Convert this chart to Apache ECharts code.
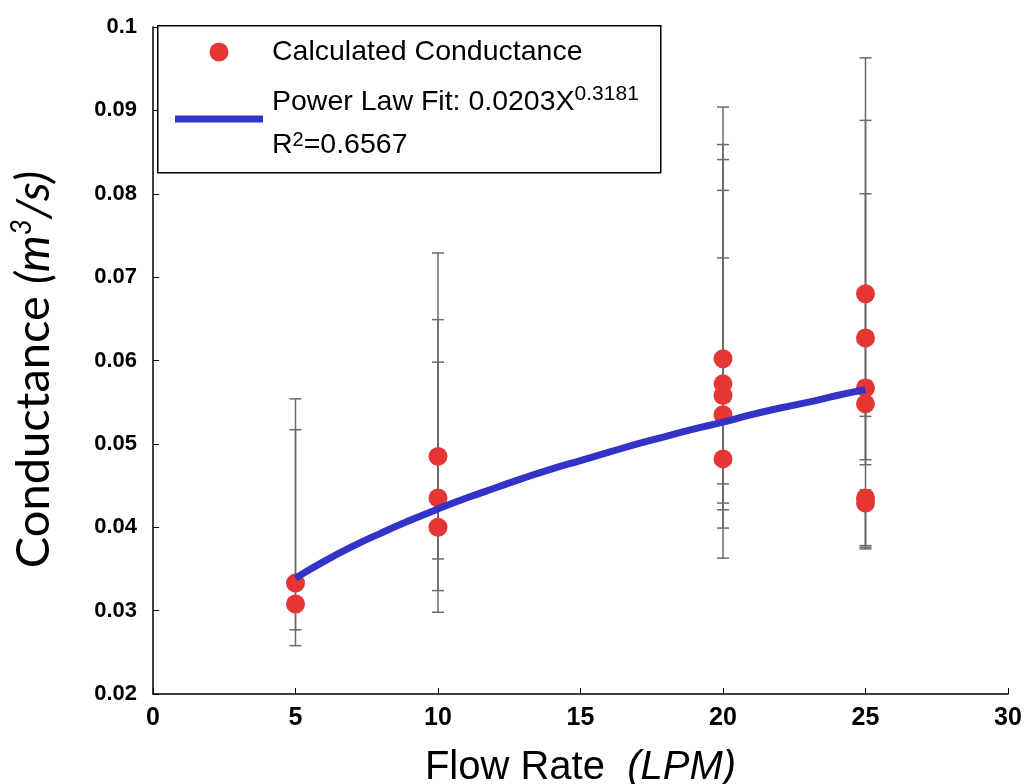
<!DOCTYPE html>
<html><head><meta charset="utf-8">
<script src="https://cdn.jsdelivr.net/npm/echarts@6/dist/echarts.min.js"></script>
<style>html,body{margin:0;padding:0;background:#fff}#c{width:1028px;height:784px}</style>
</head><body><div id="c"></div>
<script>
// Calculated conductance points with their error-bar limits
const flowRate    = [5, 5, 10, 10, 10, 20, 20, 20, 20, 20, 25, 25, 25, 25, 25, 25];
const conductance = [0.0333, 0.0308, 0.0485, 0.0435, 0.0400, 0.0602, 0.0572, 0.0558, 0.0535, 0.0482, 0.0680, 0.0627, 0.0567, 0.0548, 0.0435, 0.0429];
const errLow      = [0.0258, 0.0277, 0.0362, 0.0324, 0.0298, 0.0452, 0.0429, 0.0421, 0.0399, 0.0363, 0.0533, 0.0481, 0.0475, 0.0378, 0.0374, 0.0376];
const errHigh     = [0.0554, 0.0517, 0.0729, 0.0649, 0.0598, 0.0904, 0.0859, 0.0841, 0.0804, 0.0723, 0.0963, 0.0888, 0.0800, 0.0576, 0.0445, 0.0440];
// Power law fit curve
const fitX = [5, 6, 7, 8, 9, 10, 11, 12, 13, 14, 15, 16, 17, 18, 19, 20, 21, 22, 23, 24, 25];
const fitY = [0.0339, 0.0359, 0.0377, 0.0393, 0.0408, 0.0422, 0.0435, 0.0447, 0.0459, 0.0470, 0.0480, 0.0490, 0.0500, 0.0509, 0.0518, 0.0526, 0.0535, 0.0543, 0.0550, 0.0558, 0.0565];
const legendLabels = ['Calculated Conductance', 'Power Law Fit: 0.0203X', '0.3181', 'R', '2', '=0.6567'];
const xTitle = ['Flow Rate', '(LPM)'];
const yTitle = ['Conductance ', '(m', '3', '/s)'];

const chart = echarts.init(document.getElementById('c'));
const pts = flowRate.map((x, i) => [x, conductance[i]]);
const bars = flowRate.map((x, i) => [x, errLow[i], errHigh[i]]);
const fit = fitX.map((x, i) => [x, fitY[i]]);
const RED = '#E53535', BLUE = '#3333C8';
const sans = '"Liberation Sans", Arial, sans-serif';
const hum = 'Lato, "Open Sans", sans-serif';

const legRich = {
  m: { fontFamily: sans, fontSize: 28.5, color: '#000', lineHeight: 36 },
  s: { fontFamily: sans, fontSize: 21, color: '#000', verticalAlign: 'top', lineHeight: 36 },
  s2: { fontFamily: sans, fontSize: 20, color: '#000', verticalAlign: 'top', lineHeight: 30 },
  m2: { fontFamily: sans, fontSize: 28.5, color: '#000', lineHeight: 30 }
};

chart.setOption({
  animation: false,
  backgroundColor: '#fff',
  grid: { left: 153, right: 20, top: 27, bottom: 90, containLabel: false, outerBoundsMode: 'none' },
  xAxis: {
    type: 'value', min: 0, max: 30, interval: 5,
    axisLine: { show: true, onZero: false, lineStyle: { color: '#000', width: 1.5 } },
    axisTick: { show: true, inside: true, length: 6, lineStyle: { color: '#000', width: 1 } },
    splitLine: { show: false },
    axisLabel: { color: '#000', fontFamily: sans, fontWeight: 'bold', fontSize: 25, margin: 12 },
    name: '{a|' + xTitle[0] + '}{b|  ' + xTitle[1] + '}',
    nameLocation: 'middle', nameGap: 54,
    nameTextStyle: {
      rich: {
        a: { fontFamily: sans, fontSize: 40, color: '#000' },
        b: { fontFamily: sans, fontSize: 40, fontStyle: 'italic', color: '#000' }
      }
    }
  },
  yAxis: {
    type: 'value', min: 0.02, max: 0.1, interval: 0.01,
    axisLine: { show: true, onZero: false, lineStyle: { color: '#000', width: 1.5 } },
    axisTick: { show: true, inside: true, length: 6, lineStyle: { color: '#000', width: 1 } },
    splitLine: { show: false },
    axisLabel: { color: '#000', fontFamily: sans, fontWeight: 'bold', fontSize: 22, margin: 16,
      formatter: v => String(Math.round(v * 100) / 100) },
    name: '{n|' + yTitle[0] + '}{i|' + yTitle[1] + '}{s|' + yTitle[2] + '}{i|' + yTitle[3] + '}',
    nameLocation: 'middle', nameRotate: 90, nameGap: 93,
    nameTextStyle: {
      padding: [0, 18, 0, 0],
      rich: {
        n: { fontFamily: hum, fontSize: 47, color: '#000', lineHeight: 52 },
        i: { fontFamily: hum, fontSize: 47, fontStyle: 'italic', color: '#000', lineHeight: 52 },
        s: { fontFamily: hum, fontSize: 28, fontStyle: 'italic', color: '#000', verticalAlign: 'top', lineHeight: 52 }
      }
    }
  },
  series: [
    {
      type: 'custom', name: 'err', data: bars, z: 2,
      encode: { x: 0, y: [1, 2] },
      renderItem: function (params, api) {
        const x = api.value(0);
        const lo = api.coord([x, api.value(1)]);
        const hi = api.coord([x, api.value(2)]);
        const w = 6;
        const style = { stroke: '#6a6a6a', lineWidth: 1.5 };
        return {
          type: 'group', children: [
            { type: 'line', shape: { x1: lo[0], y1: lo[1], x2: hi[0], y2: hi[1] }, style: style },
            { type: 'line', shape: { x1: lo[0] - w, y1: lo[1], x2: lo[0] + w, y2: lo[1] }, style: style },
            { type: 'line', shape: { x1: hi[0] - w, y1: hi[1], x2: hi[0] + w, y2: hi[1] }, style: style }
          ]
        };
      }
    },
    {
      type: 'scatter', name: 'Calculated Conductance', data: pts, z: 3,
      symbol: 'circle', symbolSize: 19,
      itemStyle: { color: RED, opacity: 1 }
    },
    {
      type: 'line', name: 'fit', data: fit, z: 4, smooth: true,
      showSymbol: false, lineStyle: { color: BLUE, width: 7 }
    }
  ],
  graphic: [
    { type: 'rect', left: 157, top: 25, z: 10,
      shape: { width: 503, height: 147 },
      style: { fill: '#fff', stroke: '#000', lineWidth: 1.5 } },
    { type: 'circle', z: 11, shape: { cx: 219, cy: 52, r: 9.5 }, style: { fill: RED } },
    { type: 'line', z: 11, shape: { x1: 175, y1: 119, x2: 263, y2: 119 }, style: { stroke: BLUE, lineWidth: 7 } },
    { type: 'text', z: 11, x: 272, y: 52, style: { text: legendLabels[0], font: '28.5px ' + sans, fill: '#000', verticalAlign: 'middle' } },
    { type: 'text', z: 11, x: 272, y: 102, style: {
        text: '{m|' + legendLabels[1] + '}{s|' + legendLabels[2] + '}', rich: legRich, verticalAlign: 'middle' } },
    { type: 'text', z: 11, x: 272, y: 145, style: {
        text: '{m2|' + legendLabels[3] + '}{s2|' + legendLabels[4] + '}{m2|' + legendLabels[5] + '}', rich: legRich, verticalAlign: 'middle' } }
  ]
});
</script>
</body></html>
